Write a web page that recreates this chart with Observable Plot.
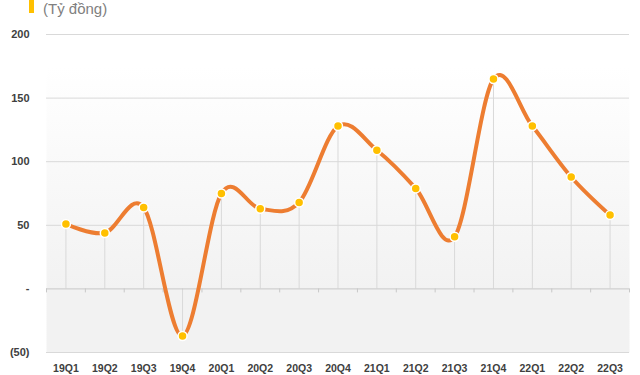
<!DOCTYPE html>
<html>
<head>
<meta charset="utf-8">
<script src="https://cdn.jsdelivr.net/npm/d3@7"></script>
<script src="https://cdn.jsdelivr.net/npm/@observablehq/plot@0.6"></script>
<style>
  html, body { margin: 0; padding: 0; background: #fff; }
  #wrap { position: relative; width: 640px; height: 375px; overflow: hidden; font-family: "Liberation Sans", Arial, sans-serif; }
  #bar { position: absolute; left: 29px; top: 0; width: 5px; height: 13px; background: #FFC000; }
  #title { position: absolute; left: 43px; top: 1px; font-size: 15px; line-height: 16px; color: #808080; white-space: nowrap; }
</style>
</head>
<body>
<div id="wrap">
  <div id="bar"></div>
  <div id="title">(Tỷ đồng)</div>
</div>
<script>
const categories = ["19Q1","19Q2","19Q3","19Q4","20Q1","20Q2","20Q3","20Q4","21Q1","21Q2","21Q3","21Q4","22Q1","22Q2","22Q3"];
const values = [51, 44, 64, -37, 75, 63, 68, 128, 109, 79, 41, 165, 128, 88, 58];
const yTicks = [-50, 0, 50, 100, 150, 200];
const gridValues = [-50, 50, 100, 150, 200];

const data = categories.map((c, i) => ({i, c, v: values[i]}));
const boundaries = d3.range(categories.length + 1).map(i => i - 0.5);

const chart = Plot.plot({
  width: 640,
  height: 375,
  marginLeft: 46,
  marginRight: 11,
  marginTop: 34,
  marginBottom: 23,
  style: {background: "transparent", fontFamily: "Liberation Sans, Arial, sans-serif"},
  x: {type: "linear", domain: [-0.5, categories.length - 0.5], axis: null, label: null},
  y: {domain: [-50, 200], axis: null, label: null},
  marks: [
    Plot.frame({fill: "url(#bgGrad)", stroke: "none"}),
    Plot.ruleY(gridValues, {stroke: "#d9d9d9", strokeWidth: 1}),
    Plot.ruleX(data, {x: "i", y1: 0, y2: "v", stroke: "#d9d9d9", strokeWidth: 1}),
    Plot.ruleY([0], {stroke: "#c8c8c8", strokeWidth: 1}),
    Plot.ruleX(boundaries, {y1: 0, y2: 0, insetBottom: -4, stroke: "#c8c8c8", strokeWidth: 1}),
    Plot.line(data, {x: "i", y: "v", curve: "cardinal", stroke: "#ED7D31", strokeWidth: 4, strokeLinecap: "round"}),
    Plot.dot(data, {x: "i", y: "v", r: 4.5, fill: "#FFC000", stroke: "#ffffff", strokeWidth: 1.5}),
    Plot.axisY(yTicks, {
      label: null, tickSize: 0, tickPadding: 17, fontSize: 11, fontWeight: "bold", fill: "#404040",
      tickFormat: d => d === 0 ? "-" : d < 0 ? `(${-d})` : `${d}`
    }),
    Plot.axisX(d3.range(categories.length), {
      label: null, tickSize: 0, tickPadding: 12, fontSize: 10.5, fontWeight: "bold", fill: "#404040",
      tickFormat: i => categories[i]
    })
  ]
});

d3.select(chart).insert("defs", ":first-child").html(
  `<linearGradient id="bgGrad" x1="0" y1="0" x2="0" y2="1">
     <stop offset="0.1" stop-color="#ffffff"/>
     <stop offset="0.8" stop-color="#f2f2f2"/>
     <stop offset="1" stop-color="#f2f2f2"/>
   </linearGradient>`
);
document.getElementById("wrap").prepend(chart);
</script>
</body>
</html>
